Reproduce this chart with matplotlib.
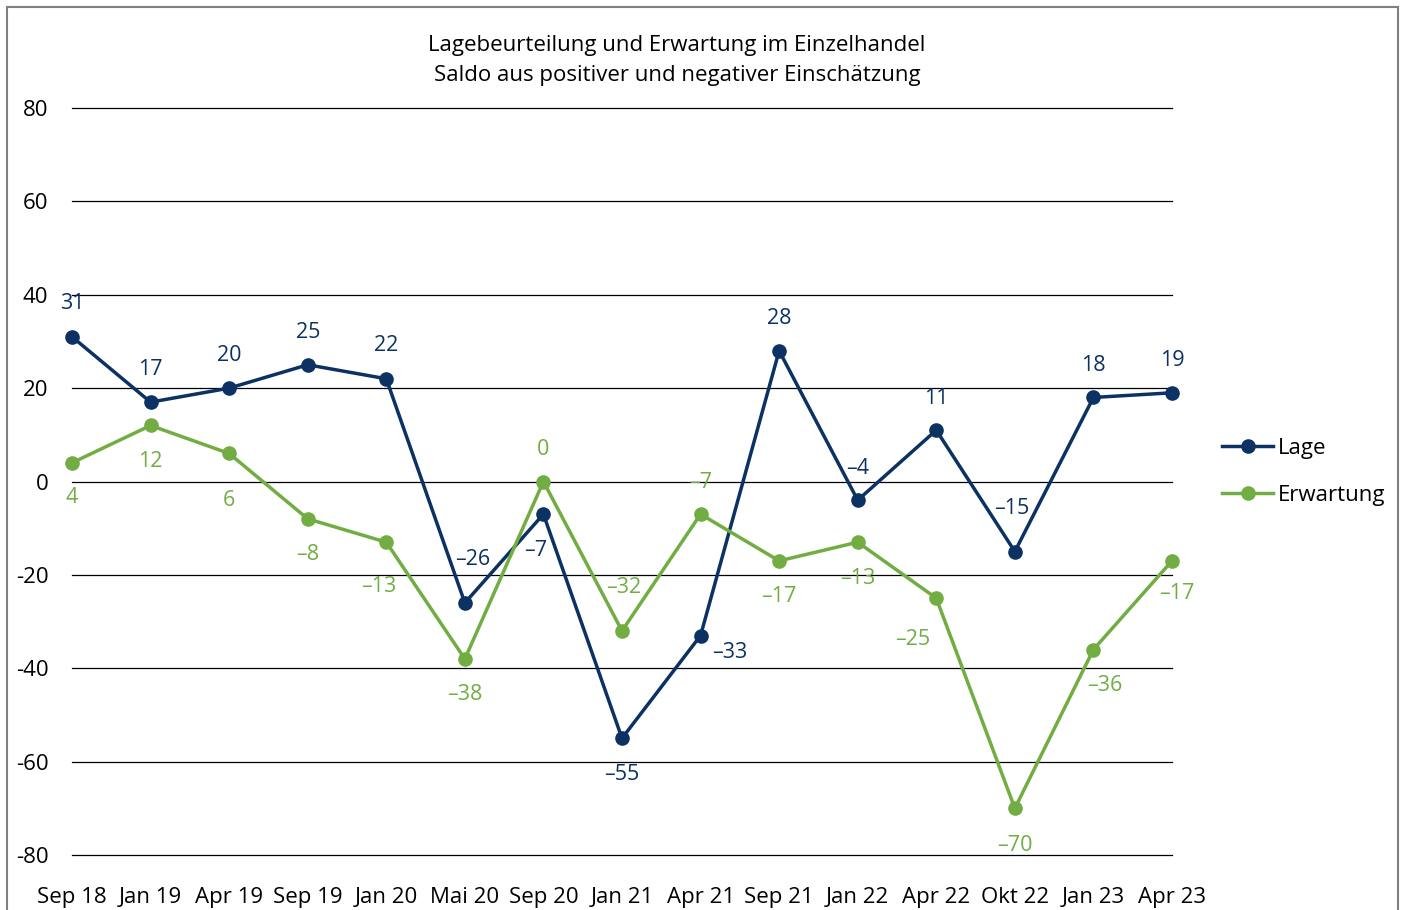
import matplotlib
matplotlib.use("Agg")
import matplotlib.pyplot as plt
from matplotlib.patches import Rectangle
from matplotlib.lines import Line2D

plt.rcParams['font.family'] = ['Open Sans', 'DejaVu Sans']

categories = ["Sep 18", "Jan 19", "Apr 19", "Sep 19", "Jan 20", "Mai 20", "Sep 20",
              "Jan 21", "Apr 21", "Sep 21", "Jan 22", "Apr 22", "Okt 22", "Jan 23", "Apr 23"]
lage = [31, 17, 20, 25, 22, -26, -7, -55, -33, 28, -4, 11, -15, 18, 19]
erwartung = [4, 12, 6, -8, -13, -38, 0, -32, -7, -17, -13, -25, -70, -36, -17]
yticks = [-80, -60, -40, -20, 0, 20, 40, 60, 80]

# label offsets in pixels (dx, dy)
lage_off = [(0, 33), (0, 33), (0, 33), (0, 32), (0, 33), (8, 43), (-8, -36), (0, -36),
            (29, -17), (0, 32), (0, 32), (0, 32), (-3, 43), (0, 32), (0, 32)]
erw_off = [(0, -35), (0, -36), (0, -47), (0, -36), (-8, -44), (0, -36), (0, 32), (2, 43),
           (0, 32), (0, -36), (0, -36), (-24, -41), (0, -37), (11, -36), (5, -33)]

c_lage = "#0b3262"
c_erw = "#72ad43"

fig = plt.figure(figsize=(14.05, 9.10), dpi=100)
ax = fig.add_axes([72 / 1405, 55 / 910, 1100 / 1405, 747 / 910])

x = list(range(len(categories)))
ax.plot(x, lage, color=c_lage, lw=2.5, marker='o', ms=9.5, clip_on=False, zorder=3, label="Lage")
ax.plot(x, erwartung, color=c_erw, lw=2.5, marker='o', ms=9.5, clip_on=False, zorder=3, label="Erwartung")

for xi, v, (dx, dy) in zip(x, lage, lage_off):
    ax.annotate(f"{v}".replace("-", "\u2013"), (xi, v), xytext=(dx, dy), textcoords='offset pixels',
                ha='center', va='center', color=c_lage, fontsize=15.5, zorder=4)
for xi, v, (dx, dy) in zip(x, erwartung, erw_off):
    ax.annotate(f"{v}".replace("-", "\u2013"), (xi, v), xytext=(dx, dy), textcoords='offset pixels',
                ha='center', va='center', color=c_erw, fontsize=15.5, zorder=4)

ax.set_xlim(0, len(categories) - 1)
ax.set_ylim(-80, 80)
ax.set_yticks(yticks)
ax.set_yticklabels([str(t) for t in yticks])
ax.set_xticks(x)
ax.set_xticklabels(categories)
ax.grid(axis='y', color='black', lw=0.9, zorder=1)
for gl in ax.get_ygridlines():
    gl.set_clip_on(False)
ax.tick_params(axis='both', length=0, labelsize=16, colors='black')
ax.tick_params(axis='y', pad=17)
ax.tick_params(axis='x', pad=23)
for s in ax.spines.values():
    s.set_visible(False)

fig.text(677 / 1405, 1 - 45 / 910, "Lagebeurteilung und Erwartung im Einzelhandel",
         ha='center', va='center', fontsize=16)
fig.text(677 / 1405, 1 - 76 / 910, "Saldo aus positiver und negativer Einschätzung",
         ha='center', va='center', fontsize=16)

handles = [Line2D([], [], color=c_lage, lw=2.5, marker='o', ms=9.5),
           Line2D([], [], color=c_erw, lw=2.5, marker='o', ms=9.5)]
fig.legend(handles, ["Lage", "Erwartung"], loc='center left',
           bbox_to_anchor=(1202 / 1405, 1 - 472 / 910), frameon=False, fontsize=16,
           handlelength=2.3, handletextpad=0.2, labelspacing=1.15)

fig.add_artist(Rectangle((7 / 1405, -0.05), (1398 - 7) / 1405, 1.05 - 7 / 910,
                         transform=fig.transFigure, fill=False, ec='#808080', lw=1.5))

fig.savefig("out.png", dpi=100)
